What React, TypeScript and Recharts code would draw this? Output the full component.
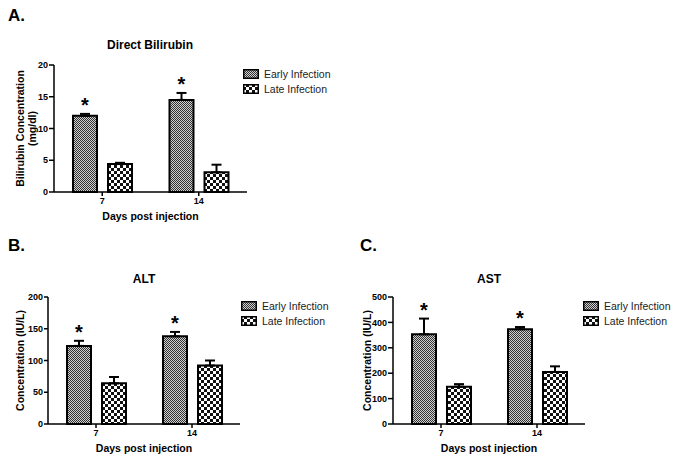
import React from 'react';
import { BarChart, Bar, XAxis, YAxis, ErrorBar, LabelList } from 'recharts';

const DAYS = ['7', '14'];
const SERIES_NAMES = ['Early Infection', 'Late Infection'];

const BILI_EARLY = [12.0, 14.5];
const BILI_EARLY_ERR = [0.3, 1.1];
const BILI_LATE = [4.4, 3.1];
const BILI_LATE_ERR = [0.2, 1.2];
const BILI_TICKS = [0, 5, 10, 15, 20];

const ALT_EARLY = [123, 138];
const ALT_EARLY_ERR = [8, 7];
const ALT_LATE = [64, 92];
const ALT_LATE_ERR = [10, 8];
const ALT_TICKS = [0, 50, 100, 150, 200];

const AST_EARLY = [353, 373];
const AST_EARLY_ERR = [62, 9];
const AST_LATE = [147, 205];
const AST_LATE_ERR = [10, 22];
const AST_TICKS = [0, 100, 200, 300, 400, 500];

const FONT = '"Liberation Sans", Arial, sans-serif';

const Patterns = () => (
  <svg width={0} height={0} style={{ position: 'absolute' }}>
    <defs>
      <pattern id="earlyFill" width={2} height={2} patternUnits="userSpaceOnUse">
        <rect width={2} height={2} fill="#d0d0d0" />
        <rect width={1} height={1} fill="#333" />
        <rect x={1} y={1} width={1} height={1} fill="#333" />
      </pattern>
      <pattern id="lateFill" width={6} height={6} patternUnits="userSpaceOnUse">
        <rect width={6} height={6} fill="#111" />
        <rect width={3} height={3} fill="#fff" />
        <rect x={3} y={3} width={3} height={3} fill="#fff" />
      </pattern>
    </defs>
  </svg>
);

const Legend = ({ left, top }: { left: number; top: number }) => (
  <div style={{ position: 'absolute', left, top, fontFamily: FONT, fontSize: 10.5, color: '#222' }}>
    {SERIES_NAMES.map((name, i) => (
      <div key={name} style={{ display: 'flex', alignItems: 'center', height: 15 }}>
        <svg width={16} height={10} style={{ marginRight: 5 }}>
          <rect x={0.75} y={0.75} width={14.5} height={8.5} fill={i === 0 ? 'url(#earlyFill)' : 'url(#lateFill)'} stroke="#000" strokeWidth={1.5} />
        </svg>
        <span>{name}</span>
      </div>
    ))}
  </div>
);

type PanelProps = {
  left: number;
  top: number;
  width: number;
  height: number;
  letter: string;
  letterX: number;
  title: string;
  titleX: number;
  titleTop: number;
  yLabel: string[];
  yLabelX: number[];
  yAxisWidth: number;
  yTickSize: number;
  margin: { top: number; right: number; bottom: number; left: number };
  early: number[];
  earlyErr: number[];
  late: number[];
  lateErr: number[];
  ticks: number[];
  legendLeft: number;
  legendTop: number;
};

const Panel = (p: PanelProps) => {
  const data = DAYS.map((day, i) => ({
    day,
    early: p.early[i],
    earlyErr: [0, p.earlyErr[i]],
    late: p.late[i],
    lateErr: [0, p.lateErr[i]],
  }));

  // asterisk sits above the error bar of each early-infection bar
  const star = (props: any) => {
    const vb = props.viewBox && props.viewBox.width !== undefined ? props.viewBox : props;
    const idx = props.index !== undefined ? props.index : p.early.indexOf(props.value);
    const v = p.early[idx];
    const pxPerUnit = Math.abs(vb.height) / v;
    const errTop = Math.min(vb.y, vb.y + vb.height) - p.earlyErr[idx] * pxPerUnit;
    return (
      <text key={`star-${idx}`} x={vb.x + vb.width / 2} y={errTop - 2} textAnchor="middle" fontSize={20} fontWeight="bold" fill="#000" fontFamily={FONT}>
        *
      </text>
    );
  };

  const yLabel = (props: any) => {
    const vb = props.viewBox;
    const cy = vb.y + vb.height / 2;
    return (
      <g>
        {p.yLabel.map((line, i) => (
          <text key={line} x={p.yLabelX[i]} y={cy} transform={`rotate(-90 ${p.yLabelX[i]} ${cy})`} textAnchor="middle" dominantBaseline="central" fontSize={10.5} fontWeight="bold" fill="#000" fontFamily={FONT}>
            {line}
          </text>
        ))}
      </g>
    );
  };

  return (
    <>
      <div style={{ position: 'absolute', left: p.left + p.letterX, top: p.top + 7, fontFamily: FONT, fontSize: 17, lineHeight: '17px', fontWeight: 'bold', color: '#000' }}>
        {p.letter}
      </div>
      <div style={{ position: 'absolute', left: p.titleX - 100, top: p.titleTop, width: 200, textAlign: 'center', fontFamily: FONT, fontSize: 12, lineHeight: '12px', fontWeight: 'bold', color: '#000' }}>
        {p.title}
      </div>
      <div style={{ position: 'absolute', left: p.left, top: p.top }}>
        <BarChart width={p.width} height={p.height} data={data} margin={p.margin} barSize={24} barGap={11}>
          <XAxis
            dataKey="day"
            height={38}
            axisLine={{ stroke: '#000', strokeWidth: 1.5 }}
            tickLine={{ stroke: '#000', strokeWidth: 1.5 }}
            tickSize={4}
            tickMargin={2}
            tick={{ fill: '#000', fontSize: 9, fontWeight: 'bold', fontFamily: FONT }}
            label={{ value: 'Days post injection', position: 'insideBottom', offset: 10, fill: '#000', fontSize: 10.5, fontWeight: 'bold', fontFamily: FONT }}
          />
          <YAxis
            type="number"
            domain={[0, p.ticks[p.ticks.length - 1]]}
            ticks={p.ticks}
            interval={0}
            width={p.yAxisWidth}
            axisLine={{ stroke: '#000', strokeWidth: 1.5 }}
            tickLine={{ stroke: '#000', strokeWidth: 1.5 }}
            tickSize={p.yTickSize}
            tickMargin={1}
            tick={{ fill: '#000', fontSize: 9, fontWeight: 'bold', fontFamily: FONT }}
            label={yLabel}
          />
          <Bar dataKey="early" name={SERIES_NAMES[0]} fill="url(#earlyFill)" stroke="#000" strokeWidth={2} isAnimationActive={false}>
            <ErrorBar dataKey="earlyErr" direction="y" width={5} stroke="#000" strokeWidth={2} isAnimationActive={false} />
            <LabelList dataKey="early" content={star} />
          </Bar>
          <Bar dataKey="late" name={SERIES_NAMES[1]} fill="url(#lateFill)" stroke="#000" strokeWidth={2} isAnimationActive={false}>
            <ErrorBar dataKey="lateErr" direction="y" width={5} stroke="#000" strokeWidth={2} isAnimationActive={false} />
          </Bar>
        </BarChart>
      </div>
      <Legend left={p.legendLeft} top={p.legendTop} />
    </>
  );
};

export default function App() {
  return (
    <div style={{ position: 'absolute', left: 0, top: 0, width: 683, height: 465, background: '#fff', overflow: 'hidden' }}>
      <Patterns />
      <Panel
        left={0} top={0} width={340} height={230}
        letter="A." letterX={8}
        title="Direct Bilirubin" titleX={150} titleTop={39}
        yLabel={['Bilirubin Concentration', '(mg/dl)']} yLabelX={[19.5, 32]}
        yAxisWidth={54} yTickSize={5}
        margin={{ top: 65, right: 93, bottom: 0, left: 0 }}
        early={BILI_EARLY} earlyErr={BILI_EARLY_ERR} late={BILI_LATE} lateErr={BILI_LATE_ERR}
        ticks={BILI_TICKS}
        legendLeft={243} legendTop={66}
      />
      <Panel
        left={0} top={230} width={340} height={232}
        letter="B." letterX={8}
        title="ALT" titleX={144} titleTop={273}
        yLabel={['Concentration (IU/L)']} yLabelX={[20]}
        yAxisWidth={48} yTickSize={4}
        margin={{ top: 67, right: 100, bottom: 0, left: 0 }}
        early={ALT_EARLY} earlyErr={ALT_EARLY_ERR} late={ALT_LATE} lateErr={ALT_LATE_ERR}
        ticks={ALT_TICKS}
        legendLeft={241} legendTop={298}
      />
      <Panel
        left={340} top={230} width={343} height={232}
        letter="C." letterX={20}
        title="AST" titleX={489} titleTop={273}
        yLabel={['Concentration (IU/L)']} yLabelX={[26.5]}
        yAxisWidth={53} yTickSize={5}
        margin={{ top: 67, right: 98, bottom: 0, left: 0 }}
        early={AST_EARLY} earlyErr={AST_EARLY_ERR} late={AST_LATE} lateErr={AST_LATE_ERR}
        ticks={AST_TICKS}
        legendLeft={583} legendTop={298}
      />
    </div>
  );
}
